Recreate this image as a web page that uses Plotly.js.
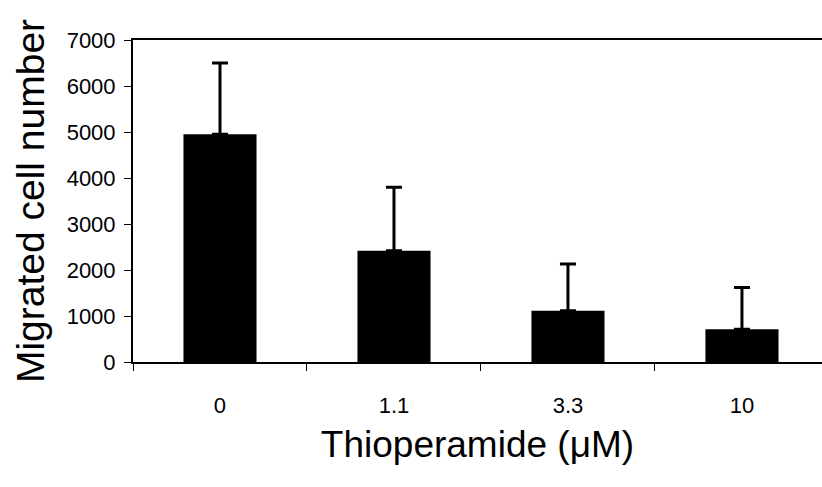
<!DOCTYPE html>
<html>
<head>
<meta charset="utf-8">
<script src="https://cdn.plot.ly/plotly-3.0.1.min.js"></script>
<style>html,body{margin:0;padding:0;background:#fff;}#chart{width:822px;height:487px;}</style>
</head>
<body>
<div id="chart"></div>
<script>
const categories = ["0", "1.1", "3.3", "10"];
const cellNumbers = [4950, 2420, 1115, 710];
const errorsPlus = [1550, 1380, 1015, 910];
const yTickValues = [0, 1000, 2000, 3000, 4000, 5000, 6000, 7000];

const FONT = "Liberation Sans, Arial, sans-serif";

const trace = {
  type: "bar",
  x: categories,
  y: cellNumbers,
  width: 0.42,
  marker: {color: "#000000", line: {width: 0}},
  error_y: {type: "data", symmetric: false, array: errorsPlus, arrayminus: [0,0,0,0],
            color: "#000000", thickness: 3, width: 8},
  hoverinfo: "none"
};

const layout = {
  width: 822, height: 487,
  margin: {l: 133, r: 0, t: 40, b: 125, pad: 0},
  paper_bgcolor: "#ffffff", plot_bgcolor: "#ffffff",
  showlegend: false,
  font: {family: FONT, color: "#000000"},
  xaxis: {
    type: "category",
    range: [-0.5, 3.46],
    showline: true, linecolor: "#000000", linewidth: 2, mirror: true,
    ticks: "outside", tickson: "boundaries", ticklen: 7, tickwidth: 1, tickcolor: "#000000",
    ticklabelstandoff: 23,
    tickfont: {size: 22, family: FONT, color: "#000000"},
    showgrid: false, zeroline: false,
    title: {text: "Thioperamide (μM)", font: {size: 37, family: FONT, color: "#000000"}, standoff: 14}
  },
  yaxis: {
    range: [0, 7000],
    tickvals: yTickValues,
    ticktext: yTickValues.map(String),
    showline: true, linecolor: "#000000", linewidth: 2, mirror: false,
    ticks: "outside", ticklen: 7, tickwidth: 1, tickcolor: "#000000",
    ticklabelstandoff: 4,
    tickfont: {size: 22, family: FONT, color: "#000000"},
    showgrid: false, zeroline: false,
    title: {text: "Migrated cell number", font: {size: 39, family: FONT, color: "#000000"}, standoff: 10}
  }
};

Plotly.newPlot("chart", [trace], layout, {staticPlot: true, displayModeBar: false});
</script>
</body>
</html>
